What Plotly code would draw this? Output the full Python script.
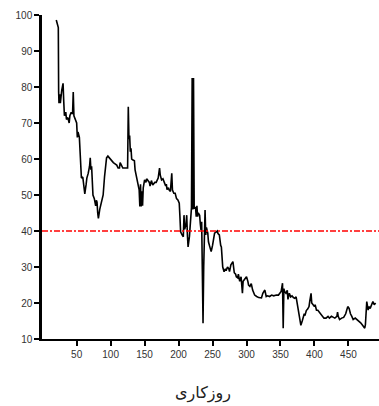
import plotly.graph_objects as go

# Daily index readings (day number, value)
days = [20, 21, 23, 23.5, 24, 25, 26, 28, 30, 31, 32, 34, 35, 37, 39, 40, 42, 44, 45, 46,
        48, 50, 51, 52, 54, 56, 57, 59, 60, 62, 64, 65, 67, 69, 70, 71, 72, 73, 74, 76,
        78, 79, 80, 81, 82, 84, 86, 89, 91, 94, 96, 99, 102, 104, 107, 109, 111, 113, 114, 116,
        118, 121, 123, 125, 126, 127, 128, 129, 130, 131, 133, 135, 136, 138, 140, 142, 143, 144, 145, 146,
        147, 148, 150, 152, 153, 155, 157, 158, 160, 162, 164, 165, 167, 170, 172, 173, 175, 177, 179, 181,
        182, 183, 185, 186, 188, 190, 191, 193, 195, 197, 199, 201, 202, 203, 205, 207, 208, 209, 211, 212,
        213, 214, 216, 218, 219, 220, 221, 222, 223, 225, 226, 227, 228, 229, 231, 232, 233, 234, 235, 236,
        237, 238, 239, 240, 241, 243, 244, 246, 248, 250, 252, 253, 255, 257, 258, 260, 262, 263, 265, 267,
        269, 270, 272, 274, 275, 277, 280, 281, 282, 284, 285, 287, 288, 290, 292, 293, 294, 295, 297, 300,
        302, 303, 305, 307, 309, 312, 315, 318, 322, 324, 327, 329, 331, 334, 337, 340, 344, 347, 349, 351,
        353, 354, 355, 356, 358, 360, 361, 363, 365, 367, 369, 371, 373, 375, 377, 378, 380, 382, 383, 385,
        386, 388, 390, 392, 393, 395, 396, 398, 400, 401, 403, 405, 407, 410, 412, 414, 417, 420, 422, 425,
        428, 430, 433, 434, 435, 437, 440, 443, 446, 448, 449, 451, 452, 453, 455, 457, 460, 463, 466, 468,
        470, 472, 474, 475, 476, 477, 479, 480, 482, 484, 486, 488, 490]

values = [98.6, 97.5, 96.5, 78.6, 75.5, 78, 75.5, 79, 81, 76, 72, 73, 71, 71.5, 70, 72, 73, 72.5, 78.6, 72,
          71, 70, 66, 67.5, 66, 57, 54.7, 55, 52.8, 50.3, 53, 54.7, 56, 58, 60.3, 57, 58, 53, 50, 49,
          47, 48.5, 48, 45, 43.5, 46, 47.5, 50, 55, 60.3, 60.8, 60, 59.5, 59, 58.6, 58.3, 57.5, 57.5, 59, 58,
          57.5, 57.5, 57.5, 57.5, 74.5, 65.5, 66.5, 62, 63, 60, 59.7, 59.5, 57, 55, 52.8, 51.4, 46.8, 53, 46.8, 51,
          47, 52, 54.2, 53.5, 54.5, 54, 53.5, 52.5, 54, 52.8, 53.3, 53.5, 53.5, 54.7, 57.5, 55.6, 54.2, 54.5, 53.5, 52.5,
          53, 51.5, 52, 51.4, 51, 56, 51.4, 50.5, 50.5, 49, 48.6, 47.7, 44, 39.8, 39, 38.4, 44.4, 40.5, 42, 44.4,
          39, 35.6, 38.5, 43, 46.5, 82.5, 46, 82.5, 46.4, 46.5, 44, 47, 44, 45, 44.4, 42, 40.3, 42.6, 30, 14.4,
          30, 44.9, 45.8, 38.9, 41, 39.4, 37, 35.6, 34.3, 36, 38, 39.4, 39.7, 40, 39.3, 38.9, 36, 35.6, 30, 28.7,
          29.5, 29, 30, 29.5, 28.7, 30.6, 31.5, 29, 28.4, 28, 27.3, 27, 28, 26, 27.3, 25, 22.7, 26, 26.5, 27.3,
          26, 25, 24.6, 25.4, 23.6, 22.2, 21.8, 21.5, 21.4, 22.7, 23.6, 21.8, 22, 21.8, 22.2, 22, 22.2, 22.2, 22.7, 23.2,
          25.5, 13, 24, 23.2, 22.7, 23.5, 21, 22.7, 21.7, 22, 21.5, 21.3, 21.7, 19.4, 17, 15.7, 13.8, 15, 16, 17,
          16.5, 17.9, 18.3, 19, 20.4, 22.7, 20, 19.6, 19, 19.5, 18, 18, 17.5, 16.7, 16.3, 15.8, 15.8, 16.3, 15.8, 16.3,
          16, 15.8, 16.3, 17.5, 16.3, 15.4, 15.8, 16, 17, 18.5, 19, 18.5, 17.5, 17, 16.3, 15.4, 15.8, 15.4, 15, 14.5,
          14, 13.5, 13, 14, 18, 20.4, 18, 19, 18.5, 19.4, 20.4, 19.5, 20]

threshold = 40
x_ticks = [50, 100, 150, 200, 250, 300, 350, 400, 450]
y_ticks = [10, 20, 30, 40, 50, 60, 70, 80, 90, 100]
x_title = "روزکاری"

fig = go.Figure()
fig.add_trace(go.Scatter(x=days, y=values, mode="lines",
                         line=dict(color="black", width=1.6), showlegend=False))

# threshold reference line (dash-dot)
fig.add_shape(type="line", xref="paper", yref="y", x0=0, x1=1, y0=threshold, y1=threshold,
              line=dict(color="#ff0000", width=1.6, dash="6px,2px,2px,2px"))

axis_font = dict(family="Liberation Sans, Arial, sans-serif", size=10, color="#333333")

fig.update_xaxes(range=[-1, 495], tickvals=x_ticks, ticks="outside", ticklen=5, tickwidth=1.5,
                 tickcolor="black", showline=True, linecolor="black", linewidth=2,
                 showgrid=False, zeroline=False, tickfont=axis_font)
fig.update_yaxes(range=[10, 100], tickvals=y_ticks, ticks="outside", ticklen=5, tickwidth=1.5,
                 tickcolor="black", showline=True, linecolor="black", linewidth=2.5,
                 showgrid=False, zeroline=False, tickfont=axis_font)

fig.add_annotation(text=x_title, xref="paper", yref="paper", x=0.478, y=-0.167,
                   showarrow=False, xanchor="center", yanchor="middle",
                   font=dict(family="DejaVu Sans, sans-serif", size=16, color="#222222"))

fig.update_layout(width=379, height=406, margin=dict(l=42, r=0, t=15, b=67),
                  paper_bgcolor="white", plot_bgcolor="white")

fig.write_html("out.html")
